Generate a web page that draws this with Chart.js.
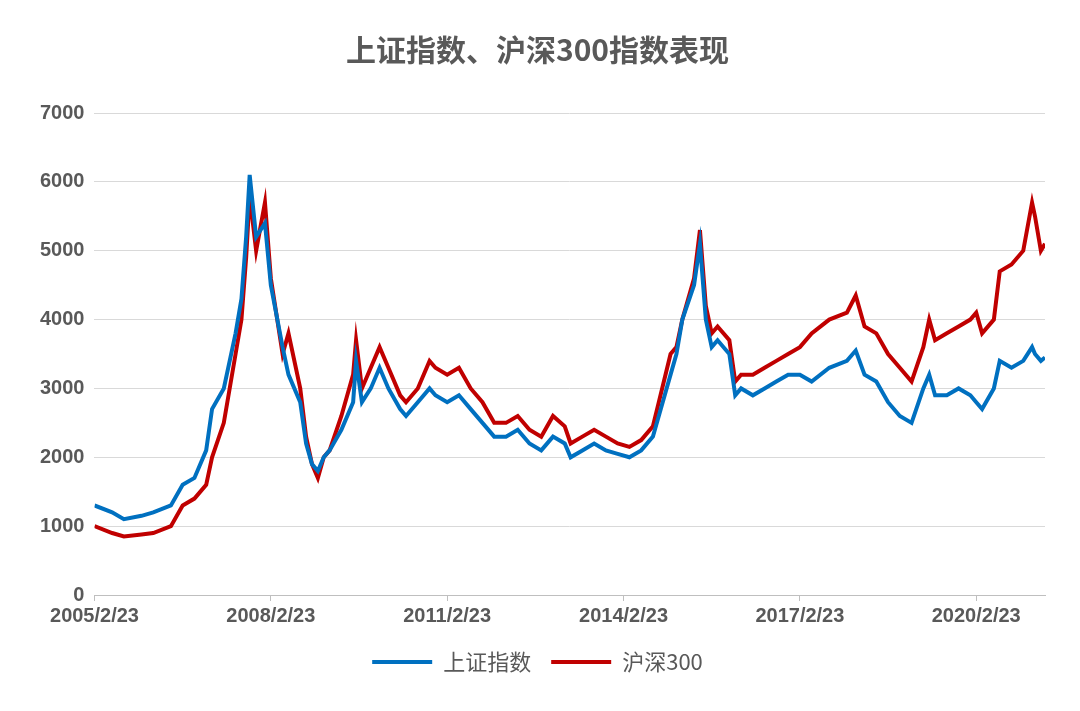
<!DOCTYPE html>
<html><head><meta charset="utf-8">
<script src="https://cdn.jsdelivr.net/npm/chart.js@4"></script>
<style>body{margin:0;background:#fff}#wrap{width:1080px;height:711px}</style>
</head><body><div id="wrap"><canvas id="c"></canvas></div>
<script>
// years since 2005/2/23
const years = [0,0.3,0.5,0.8,1.0,1.3,1.5,1.7,1.9,2.0,2.2,2.4,2.5,2.58,2.64,2.75,2.9,3.0,3.2,3.3,3.5,3.6,3.7,3.8,3.9,4.0,4.2,4.4,4.45,4.55,4.7,4.85,5.0,5.2,5.3,5.5,5.7,5.8,6.0,6.2,6.4,6.6,6.8,7.0,7.2,7.4,7.6,7.8,8.0,8.1,8.3,8.5,8.7,8.9,9.1,9.3,9.5,9.6,9.8,9.9,10.0,10.2,10.3,10.4,10.5,10.6,10.8,10.9,11.0,11.2,11.4,11.6,11.8,12.0,12.2,12.5,12.8,12.95,13.1,13.3,13.5,13.7,13.9,14.1,14.2,14.3,14.5,14.7,14.9,15.0,15.1,15.3,15.4,15.6,15.8,15.95,16.0,16.1,16.17];
const shIndex = [1300,1200,1100,1150,1200,1300,1600,1700,2100,2700,3000,3800,4300,5200,6100,5200,5400,4500,3600,3200,2800,2200,1900,1800,2000,2100,2400,2800,3400,2800,3000,3300,3000,2700,2600,2800,3000,2900,2800,2900,2700,2500,2300,2300,2400,2200,2100,2300,2200,2000,2100,2200,2100,2050,2000,2100,2300,2600,3200,3500,4000,4500,5100,4000,3600,3700,3500,2900,3000,2900,3000,3100,3200,3200,3100,3300,3400,3550,3200,3100,2800,2600,2500,3000,3200,2900,2900,3000,2900,2800,2700,3000,3400,3300,3400,3600,3500,3400,3450];
const hs300 = [1000,900,850,880,900,1000,1300,1400,1600,2000,2500,3500,4000,4900,5800,5000,5700,4600,3500,3800,3000,2300,1900,1700,2000,2100,2600,3200,3700,3000,3300,3600,3300,2900,2800,3000,3400,3300,3200,3300,3000,2800,2500,2500,2600,2400,2300,2600,2450,2200,2300,2400,2300,2200,2150,2250,2450,2800,3500,3600,4000,4600,5300,4200,3800,3900,3700,3100,3200,3200,3300,3400,3500,3600,3800,4000,4100,4350,3900,3800,3500,3300,3100,3600,4000,3700,3800,3900,4000,4100,3800,4000,4700,4800,5000,5700,5500,5000,5100];
const tickLabels = ['2005/2/23','2008/2/23','2011/2/23','2014/2/23','2017/2/23','2020/2/23'];
const names = ['上证指数','沪深300'];
const colors = ['#0070C0','#C00000'];

const pts = v => years.map((y,i)=>({x:y,y:v[i]}));
new Chart(document.getElementById('c'), {
  type:'scatter',
  data:{datasets:[shIndex,hs300].map((v,i)=>({label:names[i],data:pts(v),showLine:true,borderColor:colors[i],backgroundColor:colors[i],borderWidth:4,pointRadius:0,tension:0}))},
  options:{
    responsive:true,maintainAspectRatio:false,animation:false,
    layout:{padding:{left:30,right:35,top:10,bottom:28}},
    plugins:{
      title:{display:true,text:'上证指数、沪深300指数表现',color:'#595959',font:{size:30,weight:'bold',family:'Noto Sans CJK SC'},padding:{top:22,bottom:45}},
      legend:{position:'bottom',labels:{color:'#595959',font:{size:22,family:'Noto Sans CJK SC'},boxWidth:60,boxHeight:4,padding:20,
        generateLabels:ch=>ch.data.datasets.map((d,i)=>({text:d.label,fillStyle:d.borderColor,strokeStyle:d.borderColor,lineWidth:0,datasetIndex:i,fontColor:'#595959'}))}}
    },
    scales:{
      x:{type:'linear',min:0,max:16.17,
        ticks:{stepSize:3,autoSkip:false,maxRotation:0,color:'#595959',font:{size:20,weight:'bold',family:'Liberation Sans'},callback:v=>tickLabels[Math.round(v/3)]??''},
        afterBuildTicks:a=>{a.ticks=[0,3,6,9,12,15].map(v=>({value:v}));},
        grid:{drawOnChartArea:false,color:'#BFBFBF',tickLength:6},border:{color:'#BFBFBF'}},
      y:{min:0,max:7000,ticks:{stepSize:1000,color:'#595959',font:{size:20,weight:'bold',family:'Liberation Sans'},padding:10,callback:v=>String(v)},
        grid:{color:'#D9D9D9',drawTicks:false},border:{display:false}}
    }
  }
});
</script></body></html>
